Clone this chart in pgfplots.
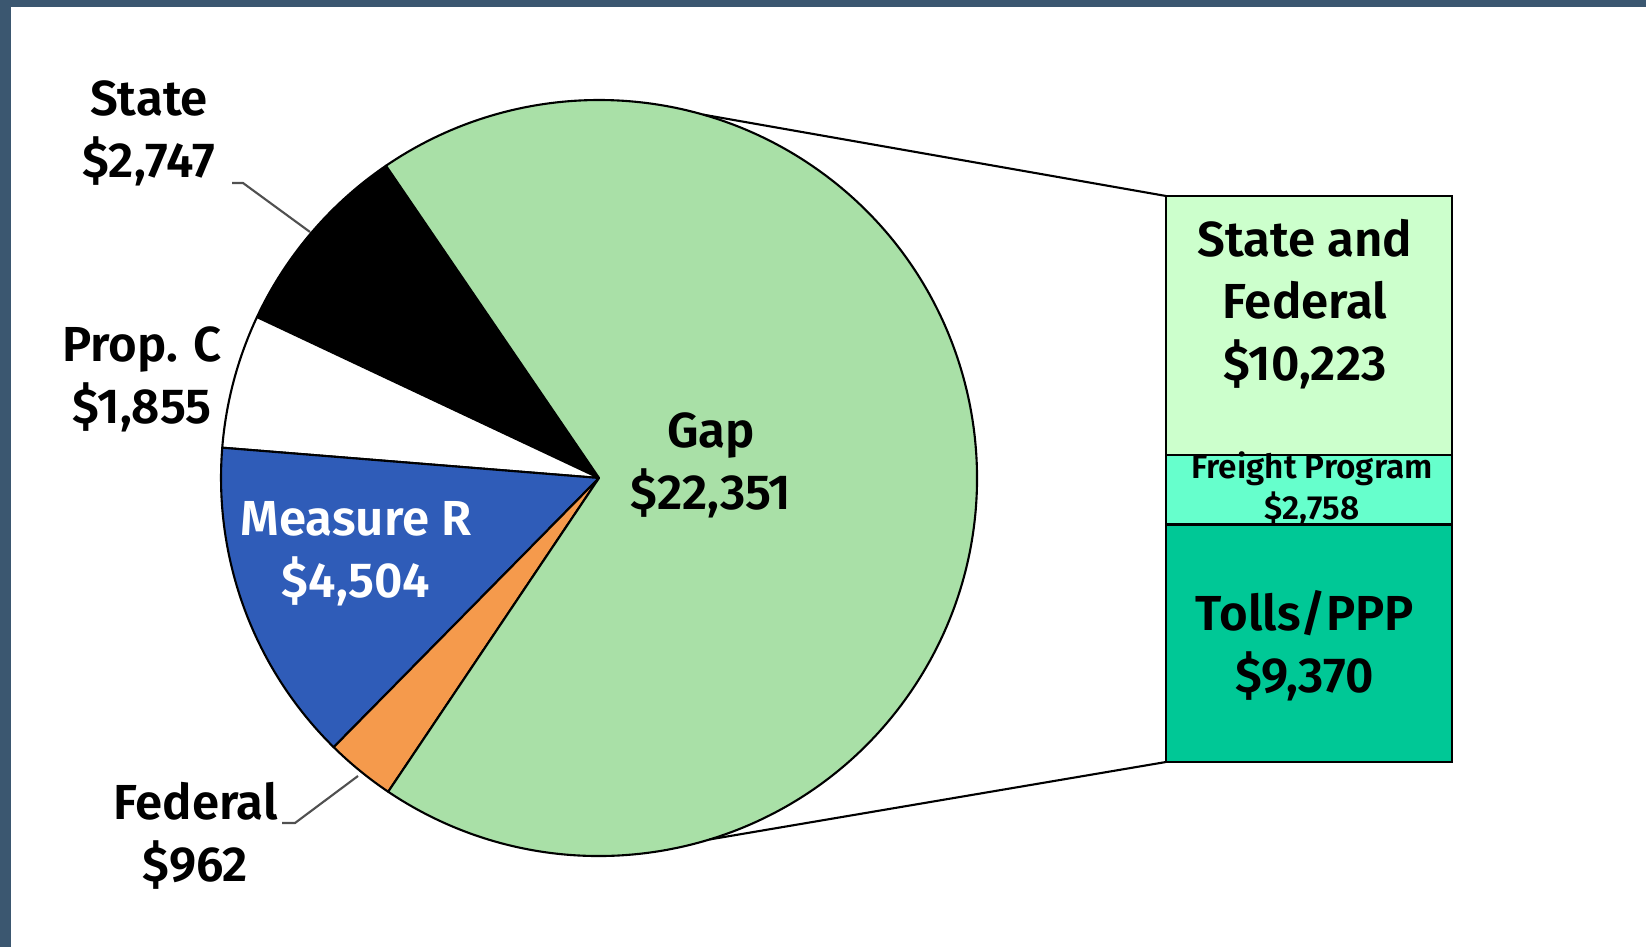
\documentclass[border=0pt]{standalone}
\usepackage{fontspec}
\setmainfont{Fira Sans}[BoldFont={* SemiBold}]
\usepackage{pgfplots}
\pgfplotsset{compat=1.18}

\definecolor{frame}{RGB}{59,87,112}
\definecolor{gapgreen}{RGB}{169,224,167}
\definecolor{measblue}{RGB}{47,92,184}
\definecolor{fedorange}{RGB}{245,154,76}
\definecolor{sfgreen}{RGB}{204,255,204}
\definecolor{freight}{RGB}{102,255,204}
\definecolor{tolls}{RGB}{0,200,150}
\definecolor{leader}{RGB}{80,80,80}

% pie values ($ millions)
\def\vState{2747}
\def\vPropC{1855}
\def\vMeasR{4504}
\def\vFed{962}
\def\vGap{22351}

% one pie slice, drawn round the axis origin
\newcommand\slice[3]{%
  \filldraw[fill=#3,draw=black,line width=0.6pt,line join=round]
    (axis cs:0,0) -- ++(#1:3.78cm) arc[start angle=#1,end angle=#2,radius=3.78cm] -- cycle;}

% slice edges in degrees (l3fp, since 22351 is past TeX's dimen range)
\edef\tot{\fpeval{\vState+\vPropC+\vMeasR+\vFed+\vGap}}
\def\aA{124.3}
\edef\aB{\fpeval{round(\aA+360*\vState/\tot,3)}}
\edef\aC{\fpeval{round(\aB+360*\vPropC/\tot,3)}}
\edef\aD{\fpeval{round(\aC+360*\vMeasR/\tot,3)}}
\edef\aE{\fpeval{round(\aD+360*\vFed/\tot,3)}}
\edef\aF{\fpeval{\aA+360}}

\begin{document}
\begin{tikzpicture}[x=1cm,y=1cm,
  lbl/.style={font=\fontsize{14}{17.6}\selectfont\bfseries,align=center,inner sep=0pt},
  small/.style={font=\fontsize{9.5}{11.7}\selectfont\bfseries,align=center,inner sep=0pt}]
\useasboundingbox (0,0) rectangle (16.46,9.47);
\fill[white] (0,0) rectangle (16.46,9.47);
\fill[frame] (0,0) rectangle (0.11,9.47);
\fill[frame] (0,9.40) rectangle (16.46,9.47);

% ---------- pie ----------
\begin{axis}[at={(5.99cm,4.69cm)},anchor=center,
  width=7.56cm,height=7.56cm,scale only axis,
  xmin=-1,xmax=1,ymin=-1,ymax=1,hide axis,clip=false]
  \slice{\aA}{\aB}{black}
  \slice{\aB}{\aC}{white}
  \slice{\aC}{\aD}{measblue}
  \slice{\aD}{\aE}{fedorange}
  \slice{\aE}{\aF}{gapgreen}
  \coordinate (ptop) at (axis cs:{cos(74)},{sin(74)});
  \coordinate (pbot) at (axis cs:{cos(-73)},{sin(-73)});
\end{axis}

% ---------- bar of the gap ----------
\begin{axis}[at={(11.66cm,1.85cm)},anchor=south west,
  width=2.86cm,height=5.66cm,scale only axis,
  xmin=-0.5,xmax=0.5,ymin=0,ymax=22351,hide axis,clip=false,
  ybar stacked,bar width=2.86cm]
  \addplot[fill=tolls,draw=black,line width=0.7pt] coordinates {(0,9370)};
  \addplot[fill=freight,draw=black,line width=0.7pt] coordinates {(0,2758)};
  \addplot[fill=sfgreen,draw=black,line width=0.7pt] coordinates {(0,10223)};
  \coordinate (btop) at (axis cs:-0.5,22351);
  \coordinate (bbot) at (axis cs:-0.5,0);
\end{axis}

\draw[black,line width=0.6pt] (ptop) -- (btop);
\draw[black,line width=0.6pt] (pbot) -- (bbot);

% leader lines
\draw[leader,line width=0.6pt] (2.32,7.64) -- (2.43,7.64) -- (3.10,7.15);
\draw[leader,line width=0.6pt] (2.82,1.24) -- (2.95,1.24) -- (3.58,1.71);

% labels
\node[lbl] at (7.11,4.815) {Gap\\\$22,351};
\node[lbl,text=white] at (3.56,3.935) {Measure R\\\$4,504};
\node[lbl] at (1.49,8.135) {State\\\$2,747};
\node[lbl] at (1.42,5.675) {Prop. C\\\$1,855};
\node[lbl] at (1.955,1.11) {Federal\\\$962};
\node[lbl] at (13.05,6.43) {State and\\Federal\\\$10,223};
\node[small] at (13.12,4.585) {Freight Program\\\$2,758};
\node[lbl] at (13.05,3.015) {Tolls/PPP\\\$9,370};
\end{tikzpicture}
\end{document}
